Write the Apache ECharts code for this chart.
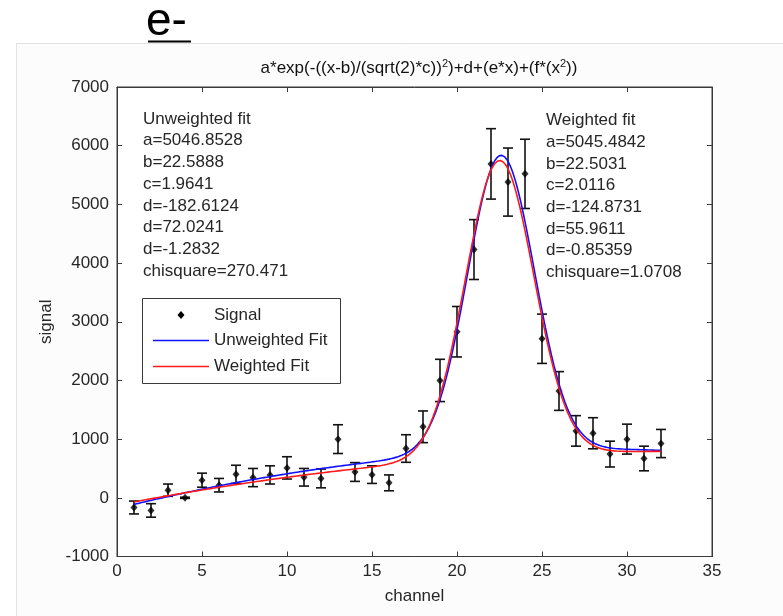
<!DOCTYPE html>
<html>
<head>
<meta charset="utf-8">
<script src="https://cdn.jsdelivr.net/npm/echarts@6/dist/echarts.min.js"></script>
<style>
  html, body { margin: 0; padding: 0; background: #fff; }
  #chart { width: 783px; height: 616px; }
</style>
</head>
<body>
<div id="chart"></div>
<script>
// Measured signal per channel with its error half-width
const channels  = [1, 2, 3, 4, 5, 6, 7, 8, 9, 10, 11, 12, 13, 14, 15, 16,
                   17, 18, 19, 20, 21, 22, 23, 24, 25, 26, 27, 28, 29, 30, 31, 32];
const signal    = [-165, -215, 130, 0, 300, 215, 400, 345, 390, 510, 350, 330, 1000, 440, 395, 255,
                   840, 1210, 2000, 2830, 4230, 5690, 5380, 5520, 2710, 1820, 1140, 1100, 745, 1000, 670, 925];
const signalErr = [110, 115, 105, 10, 120, 115, 155, 155, 155, 190, 150, 160, 245, 160, 150, 135,
                   235, 270, 360, 430, 510, 600, 580, 590, 420, 330, 260, 265, 220, 255, 210, 240];

// Fit parameters a..f for a*exp(-((x-b)/(sqrt(2)*c))^2)+d+(e*x)+(f*(x^2))
const paramNames       = ['a', 'b', 'c', 'd', 'd', 'd'];
const unweightedParams = [5046.8528, 22.5888, 1.9641, -182.6124, 72.0241, -1.2832];
const weightedParams   = [5045.4842, 22.5031, 2.0116, -124.8731, 55.9611, -0.85359];
const unweightedChi    = '270.471';
const weightedChi      = '1.0708';
const unweightedLabels = ['5046.8528', '22.5888', '1.9641', '-182.6124', '72.0241', '-1.2832'];
const weightedLabels   = ['5045.4842', '22.5031', '2.0116', '-124.8731', '55.9611', '-0.85359'];

const xTicks = [0, 5, 10, 15, 20, 25, 30, 35];
const yTicks = [-1000, 0, 1000, 2000, 3000, 4000, 5000, 6000, 7000];
const fitRange = [1, 32];

function model(p, x) {
  const [a, b, c, d, e, f] = p;
  const z = (x - b) / (Math.SQRT2 * c);
  return a * Math.exp(-z * z) + d + e * x + f * x * x;
}
function fitCurve(p) {
  const pts = [];
  for (let i = 0; i <= 620; i++) {
    const x = fitRange[0] + (fitRange[1] - fitRange[0]) * i / 620;
    pts.push([x, model(p, x)]);
  }
  return pts;
}

const FONT = '"Liberation Sans", Arial, Helvetica, sans-serif';
const TXT = '#262626';
const AX = '#3a3a3a';

const chart = echarts.init(document.getElementById('chart'), null, { renderer: 'canvas' });

const axisCommon = {
  type: 'value',
  axisLine: { show: true, onZero: false, lineStyle: { color: AX, width: 1 } },
  axisTick: { show: true, inside: true, length: 5, lineStyle: { color: AX } },
  splitLine: { show: false }
};
const plain = v => String(v);

const legendX = 142.5, legendY = 298.5;

chart.setOption({
  animation: false,
  backgroundColor: '#ffffff',
  grid: { left: 117, top: 87, width: 595, height: 469.5, show: true,
          backgroundColor: '#ffffff', borderColor: AX, borderWidth: 1 },
  xAxis: [
    Object.assign({}, axisCommon, {
      min: xTicks[0], max: xTicks[xTicks.length - 1], interval: 5, position: 'bottom',
      axisLabel: { color: TXT, fontSize: 17, fontFamily: FONT, margin: 6, formatter: plain },
      name: 'channel', nameLocation: 'middle', nameGap: 31,
      nameTextStyle: { color: TXT, fontSize: 17, fontFamily: FONT }
    }),
    Object.assign({}, axisCommon, {
      min: xTicks[0], max: xTicks[xTicks.length - 1], interval: 5, position: 'top',
      axisLabel: { show: false }
    })
  ],
  yAxis: [
    Object.assign({}, axisCommon, {
      min: yTicks[0], max: yTicks[yTicks.length - 1], interval: 1000, position: 'left',
      axisLabel: { color: TXT, fontSize: 17, fontFamily: FONT, margin: 8, formatter: plain },
      name: 'signal', nameLocation: 'middle', nameGap: 54, nameRotate: 90,
      nameTextStyle: { color: TXT, fontSize: 17, fontFamily: FONT }
    }),
    Object.assign({}, axisCommon, {
      min: yTicks[0], max: yTicks[yTicks.length - 1], interval: 1000, position: 'right',
      axisLabel: { show: false }
    })
  ],
  series: [
    {
      name: 'Signal error',
      type: 'custom',
      xAxisIndex: 0, yAxisIndex: 0,
      data: channels.map((c, i) => [c, signal[i], signalErr[i]]),
      renderItem: function (params, api) {
        const x = api.value(0), y = api.value(1), e = api.value(2);
        const top = api.coord([x, y + e]);
        const bot = api.coord([x, y - e]);
        const hw = 5;
        const st = { stroke: '#111', lineWidth: 1.6 };
        return {
          type: 'group',
          children: [
            { type: 'line', shape: { x1: top[0], y1: top[1], x2: bot[0], y2: bot[1] }, style: st },
            { type: 'line', shape: { x1: top[0] - hw, y1: top[1], x2: top[0] + hw, y2: top[1] }, style: st },
            { type: 'line', shape: { x1: bot[0] - hw, y1: bot[1], x2: bot[0] + hw, y2: bot[1] }, style: st }
          ]
        };
      },
      z: 2
    },
    {
      name: 'Signal',
      type: 'scatter',
      data: channels.map((c, i) => [c, signal[i]]),
      symbol: 'diamond', symbolSize: [7, 8],
      itemStyle: { color: '#000' },
      z: 3
    },
    {
      name: 'Unweighted Fit',
      type: 'line',
      data: fitCurve(unweightedParams),
      showSymbol: false, symbol: 'none',
      lineStyle: { color: '#1010ff', width: 1.6 },
      z: 4
    },
    {
      name: 'Weighted Fit',
      type: 'line',
      data: fitCurve(weightedParams),
      showSymbol: false, symbol: 'none',
      lineStyle: { color: '#ff1a1a', width: 1.6 },
      z: 5
    }
  ],
  graphic: [
    // figure backdrop
    { type: 'rect', z: -10, shape: { x: 16.5, y: 43.5, width: 780, height: 580 },
      style: { fill: '#fcfcfc', stroke: '#e2e2e2', lineWidth: 1 } },
    // slide heading
    { type: 'text', x: 146, y: 22.5, z: 10,
      style: { text: 'e-', font: '46px ' + FONT, fill: '#000', textVerticalAlign: 'middle' } },
    { type: 'line', z: 10, shape: { x1: 148, y1: 41.5, x2: 191, y2: 41.5 },
      style: { stroke: '#000', lineWidth: 2 } },
    // plot title with superscripts
    { type: 'text', x: 419, y: 68, z: 10,
      style: {
        text: 'a*exp(-((x-b)/(sqrt(2)*c)){sup|2})+d+(e*x)+(f*(x{sup|2}))',
        font: '17px ' + FONT, fill: '#111', textAlign: 'center', textVerticalAlign: 'middle',
        rich: { sup: { font: '11px ' + FONT, fill: '#111', padding: [0, 0, 9, 0] } }
      } },
    // fit annotations
    { type: 'text', x: 143, y: 119 - 10.8, z: 10,
      style: {
        text: ['Unweighted fit']
          .concat(paramNames.map((n, i) => n + '=' + unweightedLabels[i]))
          .concat(['chisquare=' + unweightedChi]).join('\n'),
        font: '17px ' + FONT, fill: TXT, lineHeight: 21.7, textVerticalAlign: 'top'
      } },
    { type: 'text', x: 546, y: 120.5 - 10.8, z: 10,
      style: {
        text: ['Weighted fit']
          .concat(paramNames.map((n, i) => n + '=' + weightedLabels[i]))
          .concat(['chisquare=' + weightedChi]).join('\n'),
        font: '17px ' + FONT, fill: TXT, lineHeight: 21.7, textVerticalAlign: 'top'
      } },
    // legend box
    { type: 'rect', z: 20, shape: { x: legendX, y: legendY, width: 198, height: 85 },
      style: { fill: '#fff', stroke: AX, lineWidth: 1 } },
    { type: 'polygon', z: 21,
      shape: { points: [[181, 311], [184.5, 315], [181, 319], [177.5, 315]] },
      style: { fill: '#000' } },
    { type: 'line', z: 21, shape: { x1: 153, y1: 340.5, x2: 209, y2: 340.5 },
      style: { stroke: '#1010ff', lineWidth: 1.6 } },
    { type: 'line', z: 21, shape: { x1: 153, y1: 366.5, x2: 209, y2: 366.5 },
      style: { stroke: '#ff1a1a', lineWidth: 1.6 } },
    { type: 'text', x: 214, y: 315, z: 21,
      style: { text: 'Signal', font: '17px ' + FONT, fill: TXT, textVerticalAlign: 'middle' } },
    { type: 'text', x: 214, y: 340.5, z: 21,
      style: { text: 'Unweighted Fit', font: '17px ' + FONT, fill: TXT, textVerticalAlign: 'middle' } },
    { type: 'text', x: 214, y: 366.5, z: 21,
      style: { text: 'Weighted Fit', font: '17px ' + FONT, fill: TXT, textVerticalAlign: 'middle' } }
  ]
});
</script>
</body>
</html>
